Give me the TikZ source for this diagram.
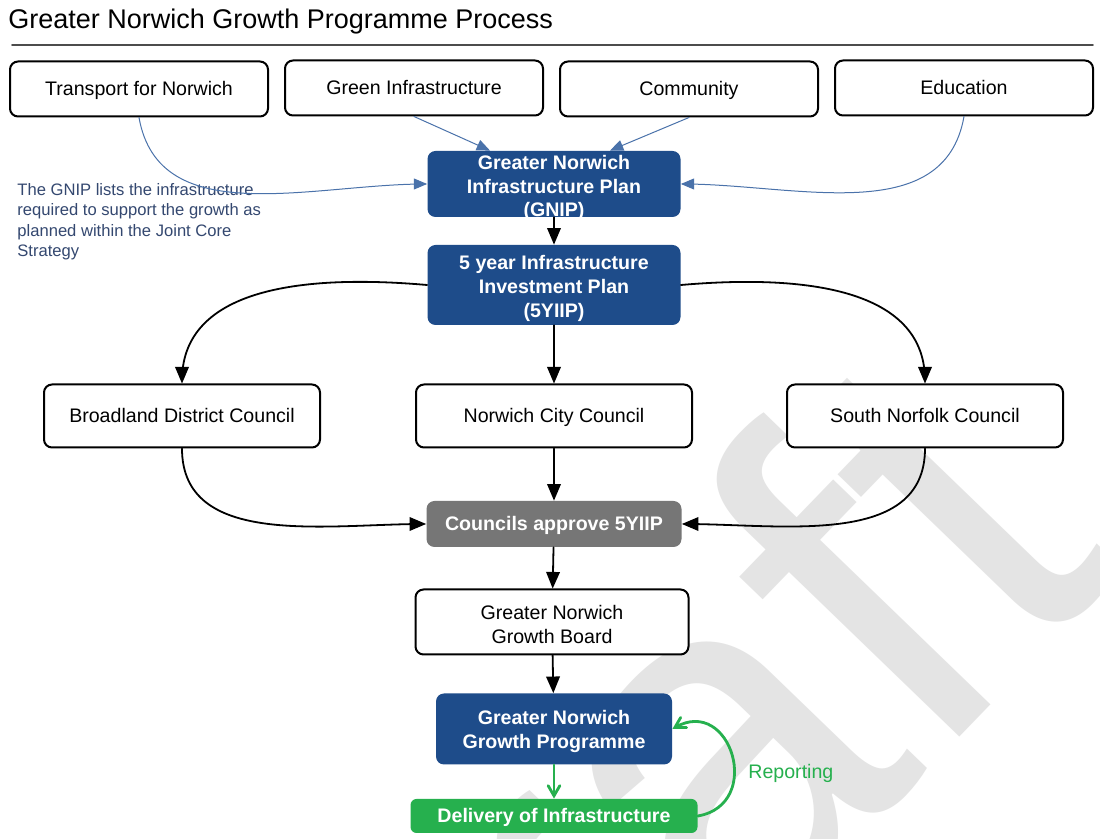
\documentclass[tikz,border=0pt]{standalone}
\usepackage{fontspec}
\setmainfont{Liberation Sans}
\usepackage{tikz}
\usetikzlibrary{arrows}

\definecolor{gnblue}{RGB}{30,76,138}
\definecolor{gngrey}{RGB}{118,118,118}
\definecolor{gngreen}{RGB}{38,176,78}
\definecolor{gnline}{RGB}{74,114,170}
\definecolor{gnnote}{RGB}{52,72,112}
\definecolor{gnmark}{RGB}{228,228,228}

\tikzset{
    whitebox/.style={draw=black,line width=1pt,fill=white,rounded corners=4pt,inner sep=0pt,align=center,font=\fontsize{9.8}{11.8}\selectfont},
    bluebox/.style={fill=gnblue,text=white,rounded corners=4pt,inner sep=0pt,align=center,font=\fontsize{9.8}{11.8}\selectfont\bfseries},
    greybox/.style={bluebox,fill=gngrey},
    greenbox/.style={bluebox,fill=gngreen,rounded corners=3pt},
    oneline/.style={text height=9.5pt,text depth=2.5pt},
    twolines/.style={text height=21.3pt},
    threelines/.style={text height=#1},
    feed/.style={->,draw=gnline,line width=0.5pt},
    flow/.style={->,line width=0.9pt},
    loopback/.style={-angle 60,draw=gngreen,line width=1.4pt}
}

\begin{document}
\begin{tikzpicture}[line cap=round,line join=round,>=triangle 45,x=0.5pt,y=-0.5pt]
        \useasboundingbox (0,0) rectangle (1100,839);
        \fill[white] (0,0) rectangle (1100,839);
        % watermark
        \node[rotate=46,anchor=base east,text=gnmark,font=\fontsize{255}{255}\selectfont] (mark) at (1130,560) {Draft};
        % heading
        \node[anchor=base west,inner sep=0pt,font=\fontsize{13.5}{16}\selectfont] (title) at (8,29) {Greater Norwich Growth Programme Process};
        \draw[black!70,line width=0.8pt] (12,45) -- (1093,45);
        % input boxes
        \node[whitebox,oneline,minimum width=129pt,minimum height=27.5pt] (tfn) at (139,89) {Transport for Norwich};
        \node[whitebox,oneline,minimum width=129pt,minimum height=27.5pt] (green) at (414,88) {Green Infrastructure};
        \node[whitebox,oneline,minimum width=129pt,minimum height=27.5pt] (comm) at (689,89) {Community};
        \node[whitebox,oneline,minimum width=129pt,minimum height=27.5pt] (edu) at (964,88) {Education};
        % plans
        \node[bluebox,threelines=33pt,text depth=0pt,minimum width=126.5pt,minimum height=33pt] (gnip) at (554,184) {Greater Norwich\\Infrastructure Plan\\(GNIP)};
        \node[bluebox,threelines=34.1pt,minimum width=126.5pt,minimum height=40pt] (yiip) at (554,285) {5 year Infrastructure\\Investment Plan\\(5YIIP)};
        \node[anchor=north west,inner sep=0pt,align=left,text=gnnote,font=\fontsize{8.3}{10.25}\selectfont] (note) at (17,183) {The GNIP lists the infrastructure\\required to support the growth as\\planned within the Joint Core\\Strategy};
        % councils
        \node[whitebox,oneline,minimum width=138pt,minimum height=31.5pt] (bdc) at (182,416) {Broadland District Council};
        \node[whitebox,oneline,minimum width=138pt,minimum height=31.5pt] (ncc) at (554,416) {Norwich City Council};
        \node[whitebox,oneline,minimum width=138pt,minimum height=31.5pt] (snc) at (925,416) {South Norfolk Council};
        \node[greybox,oneline,minimum width=127.5pt,minimum height=23pt] (approve) at (554,524) {Councils approve 5YIIP};
        % board and programme
        \node[whitebox,twolines,minimum width=136.5pt,minimum height=32.5pt] (board) at (552,622) {Greater Norwich\\Growth Board};
        \node[bluebox,twolines,minimum width=118pt,minimum height=35.5pt] (gngp) at (554,729) {Greater Norwich\\Growth Programme};
        \node[greenbox,oneline,minimum width=143.5pt,minimum height=17pt] (deliver) at (554,816) {Delivery of Infrastructure};
        \node[anchor=west,inner sep=0pt,text=gngreen,font=\fontsize{9.8}{11.8}\selectfont] (report) at (748,773) {Reporting};
        % connectors
        \draw[feed] (tfn.south) to[out=-80,in=180] (gnip.west);
        \draw[feed] (green.south) -- (gnip.north -| 490,0);
        \draw[feed] (comm.south) -- (gnip.north -| 610,0);
        \draw[feed] (edu.south) to[out=-100,in=0] (gnip.east);
        \draw[flow] (gnip) -- (yiip);
        \draw[flow] (yiip.west) to[out=175,in=90] (bdc.north);
        \draw[flow] (yiip) -- (ncc);
        \draw[flow] (yiip.east) to[out=5,in=90] (snc.north);
        \draw[flow] (bdc.south) to[out=-90,in=180] (approve.west);
        \draw[flow] (ncc) -- (approve);
        \draw[flow] (snc.south) to[out=-90,in=0] (approve.east);
        \draw[flow] (approve) -- (board);
        \draw[flow] (board) -- (gngp);
        \draw[loopback] (gngp) -- (deliver);
        \draw[loopback] (deliver.east) to[out=10,in=30,looseness=1.9] (gngp.east);
    \end{tikzpicture}
\end{document}
